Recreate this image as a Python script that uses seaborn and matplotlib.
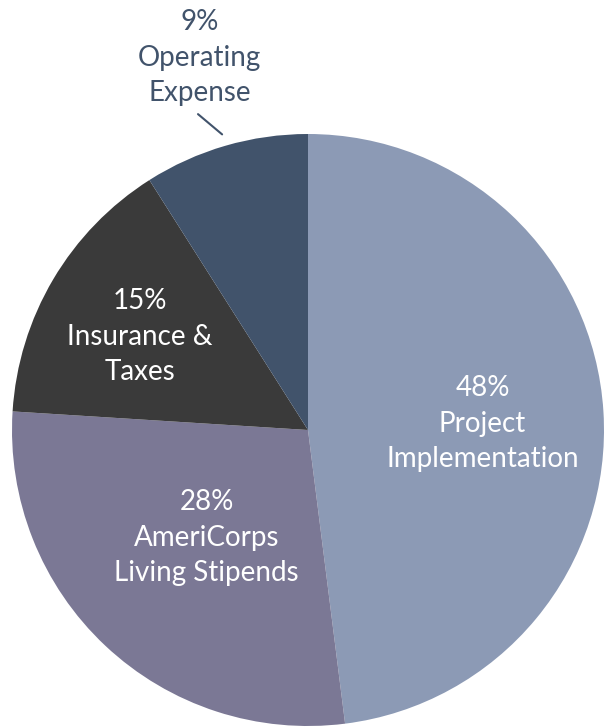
import numpy as np
import matplotlib
matplotlib.use("Agg")
from matplotlib import pyplot as plt
import seaborn as sns

sns.set_theme(style='white')
plt.rcParams['font.family'] = ['Lato', 'DejaVu Sans']

# budget shares, clockwise from 12 o'clock
labels = ['Project\nImplementation', 'AmeriCorps\nLiving Stipends', 'Insurance &\nTaxes', 'Operating\nExpense']
shares = [48, 28, 15, 9]
colors = ['#8C9AB5', '#7B7895', '#3A3A3A', '#41536B']
text_colors = ['white', 'white', 'white', '#41536B']
label_radius = [0.59, 0.50, 0.65, 1.31]
label_turn = [-1.6, 0.0, 1.6, 0.0]  # small angular nudge of each label, degrees

W, H = 613, 728
fig = plt.figure(figsize=(W / 100, H / 100), dpi=100)
ax = fig.add_axes([0, 0, 1, 1])
cx, cy, R = 308, H - 430, 296

wedges, _ = ax.pie(shares, colors=colors, startangle=90, counterclock=False,
                   center=(cx, cy), radius=R, wedgeprops=dict(linewidth=0))

for w, lab, s, tc, lr, dt in zip(wedges, labels, shares, text_colors, label_radius, label_turn):
    mid_deg = (w.theta1 + w.theta2) / 2
    mid = np.deg2rad(mid_deg + dt)
    x = cx + lr * R * np.cos(mid)
    y = cy + lr * R * np.sin(mid)
    ax.text(x, y, f'{s}%\n{lab}', ha='center', va='center', color=tc,
            fontsize=20, linespacing=1.45)
    if lr > 1:
        # leader line from the outside label toward the slice
        a0, a1 = np.deg2rad(mid_deg + 3), mid
        ax.plot([cx + 1.13 * R * np.cos(a0), cx + 1.04 * R * np.cos(a1)],
                [cy + 1.13 * R * np.sin(a0), cy + 1.04 * R * np.sin(a1)],
                color='#41536B', lw=1.5)

ax.set_xlim(0, W)
ax.set_ylim(0, H)
ax.set_aspect('equal')
ax.axis('off')
fig.savefig('out.png', dpi=100)
